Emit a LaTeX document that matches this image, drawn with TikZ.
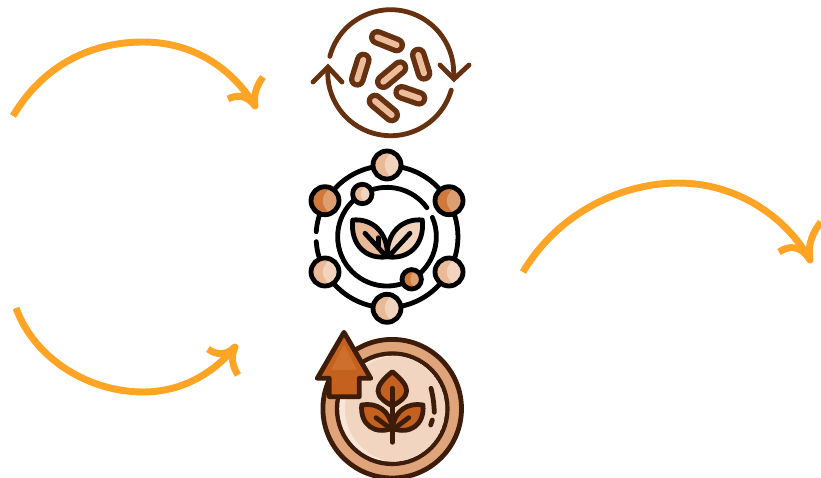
\documentclass[tikz,border=0pt]{standalone}
\definecolor{arcorange}{HTML}{FFA425}
\definecolor{germbrown}{HTML}{653110}
\definecolor{germskin}{HTML}{EDBC9B}
\definecolor{ringskin}{HTML}{E9B998}
\definecolor{ringpale}{HTML}{F1D3BE}
\definecolor{ringrust}{HTML}{CF7A3C}
\definecolor{ringtan}{HTML}{DD9F70}
\definecolor{plantdark}{HTML}{3E1C0A}
\definecolor{plantrust}{HTML}{C5611E}
\definecolor{plantbright}{HTML}{CE6F2E}
\definecolor{planttan}{HTML}{DFA47A}
\definecolor{plantpale}{HTML}{F2D5C0}
\definecolor{plantlight}{HTML}{F8E6D9}
\tikzset{
	arcline/.style={draw=arcorange, line width=5.2pt, line cap=butt, line join=round},
	germline/.style={draw=germbrown, line width=3.6pt, line cap=round},
	ringline/.style={draw=black, line width=3.6pt, line cap=round, line join=round},
	plantline/.style={draw=plantdark, line width=3.6pt, line cap=round, line join=round}
}
\newcommand{\ringball}[5]{
	\begin{scope}
		\clip (#1, #2) circle (#3);
		\fill[#4] (#1, #2) circle (#3);
		\fill[#5] (#1 + 0.85*#3, #2) circle (#3);
	\end{scope}
	\draw[ringline] (#1, #2) circle (#3);
}
\begin{document}
\begin{tikzpicture}[x=0.75pt, y=-0.75pt]
	\useasboundingbox (0, 0) rectangle (821, 478);
	% orange arcs
	\draw[arcline] (13, 116) .. controls (45, 62) and (95, 42) .. (143, 42) .. controls (190, 42) and (230, 65) .. (255, 106);
	\draw[arcline] (228, 99) .. controls (236, 95) and (246, 94) .. (255, 106) .. controls (253, 95) and (257, 85) .. (263, 77);
	\draw[arcline] (16, 308) .. controls (35, 360) and (90, 392) .. (143, 392) .. controls (180, 392) and (212, 375) .. (235, 347);
	\draw[arcline] (208, 349) .. controls (216, 355) and (226, 356) .. (235, 347) .. controls (230, 358) and (233, 367) .. (238, 375);
	\draw[arcline] (523, 272) .. controls (560, 210) and (625, 183) .. (678, 183) .. controls (735, 183) and (785, 215) .. (810, 260);
	\draw[arcline] (779, 252) .. controls (788, 246) and (800, 244) .. (810, 260) .. controls (807, 245) and (813, 232) .. (821, 222);
	% germs in a cycle
	\foreach \xa/\ya/\xb/\yb in {377.3/37.3/396.7/45, 363.3/60/357.3/79.3, 400/67.7/383.3/81.7, 418.3/55/424/73.3, 401.7/92.3/419/98.3, 375/101/391.7/115} {
		\draw[germbrown, line width=12.5pt, line cap=round] (\xa, \ya) -- (\xb, \yb);
		\draw[germskin, line width=4.5pt, line cap=round] (\xa, \ya) -- (\xb, \yb);
	}
	\coordinate (germc) at (390.7, 72.7);
	\draw[germline] ([shift={(165:47.25pt)}]germc) arc[start angle=165, end angle=-5, radius=47.25pt];
	\draw[germline] ([shift={(-16:47.25pt)}]germc) arc[start angle=-16, end angle=-184, radius=47.25pt];
	\draw[germline] (440, 65) -- (454, 79) -- (469, 65);
	\draw[germline] (313, 82) -- (328, 67) -- (342, 82);
	% rings round the leaves
	\coordinate (ringc) at (387, 236.7);
	\draw[ringline] ([shift={(184:53.2pt)}]ringc) arc[start angle=184, end angle=536, radius=53.2pt];
	\draw[ringline] ([shift={(23:37pt)}]ringc) arc[start angle=23, end angle=-324, radius=37pt];
	\foreach \x/\y/\base/\light in {387/165/ringskin/ringpale, 325/200.7/ringrust/ringtan, 449/200.7/ringrust/ringtan, 325/272/ringskin/ringpale, 449/272/ringskin/ringpale, 387/308.3/ringskin/ringpale}
		\ringball{\x}{\y}{14}{\base}{\light};
	\ringball{362.3}{194}{9.7}{ringskin}{ringpale};
	\ringball{411.7}{279.3}{9.7}{ringrust}{ringtan};
	% leaves
	\draw[ringline, fill=ringskin] (352.7, 220) .. controls (371.7, 218.3) and (388.3, 231.7) .. (387.3, 256.7) .. controls (366.7, 260) and (350, 245) .. cycle;
	\draw[ringline, fill=ringpale] (422.3, 220) .. controls (403, 218.3) and (386.3, 231.7) .. (387.3, 256.7) .. controls (408, 260) and (425, 245) .. cycle;
	\draw[ringline] (365, 233.3) -- (385, 255);
	\draw[ringline] (378.3, 237.7) -- (378.3, 246.7);
	\draw[ringline] (410, 233.3) -- (390, 255);
	% medal with the plant
	\coordinate (medalc) at (392.2, 408.7);
	\draw[plantline, fill=planttan] (medalc) circle (69.3);
	\draw[plantline, fill=plantpale] (medalc) circle (55);
	\begin{scope}
		\clip (medalc) circle (53);
		\fill[plantlight] (medalc) circle (53);
		\fill[plantpale] (398, 408.7) circle (53);
	\end{scope}
	\draw[plantline] (431, 388.3) .. controls (433, 396) and (434, 404) .. (434.3, 412.3);
	\draw[plantline] (432.3, 420) -- (430.7, 425);
	\draw[plantline, fill=plantrust] (392.3, 371.7) .. controls (382, 380) and (378, 386) .. (378, 391) .. controls (378, 397) and (385, 402) .. (392.3, 406) .. controls (399.6, 402) and (406.6, 397) .. (406.6, 391) .. controls (406.6, 386) and (402.6, 380) .. cycle;
	\draw[plantline, fill=plantrust] (361.7, 405) .. controls (376.7, 402.3) and (390, 410.3) .. (392.3, 428.3) .. controls (375, 435) and (360, 425) .. cycle;
	\draw[plantline, fill=plantrust] (423, 405) .. controls (408, 402.3) and (394.6, 410.3) .. (392.3, 428.3) .. controls (409.6, 435) and (424.6, 425) .. cycle;
	\draw[plantline] (392.3, 388.3) -- (392.3, 442.3);
	\draw[plantline] (376, 417.7) -- (392.3, 430) -- (408.7, 417.7);
	% arrow going up
	\draw[plantline, fill=plantrust] (344, 332.3) -- (370.7, 378.3) -- (359.3, 378.3) -- (359.3, 396.7) -- (329.3, 396.7) -- (329.3, 378.3) -- (317.3, 378.3) -- cycle;
	\fill[plantbright] (344, 345) -- (357, 370) -- (331, 370) -- cycle;
\end{tikzpicture}
\end{document}
